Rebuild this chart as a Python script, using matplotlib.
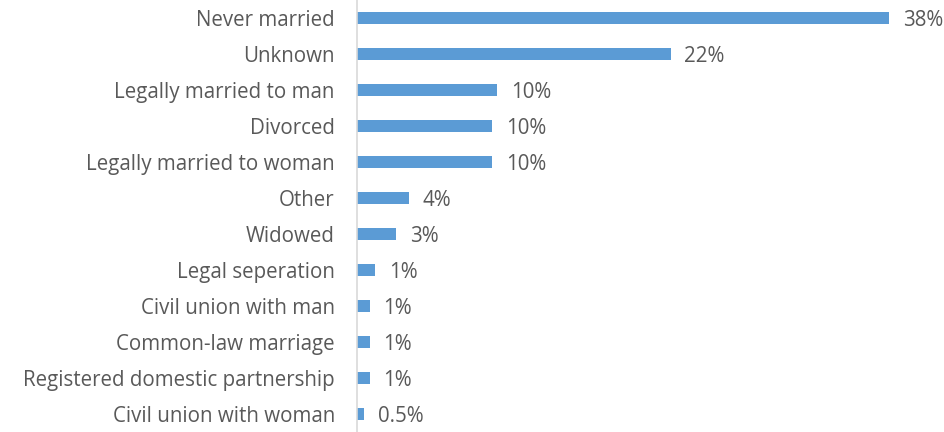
import matplotlib
matplotlib.use("Agg")
import matplotlib.pyplot as plt

categories = ["Never married", "Unknown", "Legally married to man", "Divorced",
              "Legally married to woman", "Other", "Widowed", "Legal seperation",
              "Civil union with man", "Common-law marriage",
              "Registered domestic partnership", "Civil union with woman"]
values = [38.0, 22.4, 10.0, 9.65, 9.65, 3.7, 2.8, 1.3, 0.9, 0.9, 0.9, 0.5]
labels = ["38%", "22%", "10%", "10%", "10%", "4%", "3%", "1%", "1%", "1%", "1%", "0.5%"]

plt.rcParams['font.family'] = ['Open Sans', 'DejaVu Sans']
grey = "#595959"

fig = plt.figure(figsize=(9.45, 4.32), dpi=100)
ax = fig.add_axes([357 / 945, 0, 588 / 945, 1])

y = list(range(len(categories)))
ax.barh(y, values, height=0.36, color="#5B9BD5")
for yi, v, lab in zip(y, values, labels):
    ax.annotate(lab, (v, yi), xytext=(10, -1.5), textcoords="offset points",
                va="center", ha="left", fontsize=14.8, color=grey)

ax.set_ylim(len(categories) - 0.5, -0.5)
ax.set_xlim(0, 42)
ax.set_yticks(y)
ax.set_yticklabels(categories, fontsize=14.8, color=grey)
ax.tick_params(axis="y", length=0, pad=16)
ax.set_xticks([])
for side in ["top", "right", "bottom"]:
    ax.spines[side].set_visible(False)
ax.spines["left"].set_color("#d9d9d9")
ax.spines["left"].set_linewidth(1.2)

fig.savefig("out.png", dpi=100)
